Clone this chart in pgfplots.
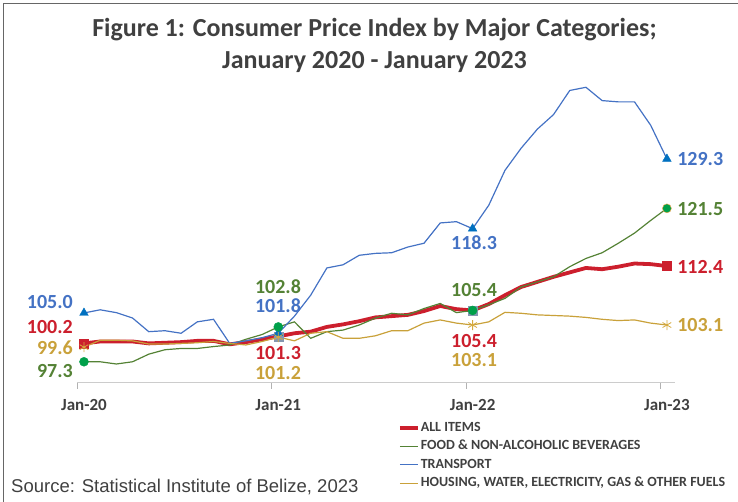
\documentclass[border=0pt]{standalone}
\usepackage{fontspec}
\setmainfont{Carlito}
\newfontfamily\srcfont{Liberation Sans}
\usepackage{pgfplots}
\pgfplotsset{compat=1.18}
\usepackage{pgfplotstable}
\definecolor{cred}{HTML}{CC1F2D}
\definecolor{cgreen}{HTML}{548235}
\definecolor{cgreenm}{HTML}{00A04A}
\definecolor{cblue}{HTML}{4472C4}
\definecolor{cbluem}{HTML}{0070C0}
\definecolor{cgold}{HTML}{C9A13A}
\definecolor{cgoldl}{HTML}{D6AA3E}
\definecolor{ctxt}{HTML}{404040}
\definecolor{cgrey}{HTML}{8497B0}

\pgfplotstableread{
i allitems food transport housing
0 100.2 97.3 105.0 99.6
1 100.5 97.3 105.5 100.7
2 100.5 96.95 105.05 100.7
3 100.5 97.3 104.2 100.6
4 100.2 98.5 102.05 100.1
5 100.3 99.2 102.2 100.1
6 100.4 99.4 101.8 100.2
7 100.6 99.4 103.6 100.3
8 100.6 99.7 104.0 100.5
9 100.05 99.95 100.2 100.2
10 100.4 100.85 100.6 99.95
11 100.85 101.6 101.1 100.5
12 101.3 102.8 101.8 101.2
13 101.8 103.6 104.5 100.6
14 102.05 101.0 107.8 101.8
15 102.8 102.05 112.1 102.05
16 103.2 102.3 112.6 101.0
17 103.7 103.1 114.1 101.0
18 104.3 104.2 114.4 101.4
19 104.5 104.95 114.5 102.2
20 104.7 104.7 115.4 102.2
21 105.3 105.7 116.0 103.4
22 106.1 106.5 119.2 103.9
23 105.6 105.05 119.4 103.4
24 105.4 105.4 118.3 103.1
25 106.4 106.3 122.0 103.6
26 107.8 107.3 127.5 105.1
27 109.1 109.1 131.0 104.95
28 109.9 109.9 134.0 104.7
29 110.7 110.7 136.3 104.6
30 111.4 112.3 140.1 104.5
31 112.1 113.6 140.6 104.3
32 111.9 114.5 138.5 104.0
33 112.3 116.0 138.3 103.8
34 112.8 117.6 138.3 103.9
35 112.7 119.6 134.6 103.4
36 112.4 121.5 129.3 103.1
}\cpidata

\pgfplotstableread{
i allitems food transport housing
0 100.2 97.3 105.0 99.6
12 101.3 102.8 101.8 101.2
24 105.4 105.4 118.3 103.1
36 112.4 121.5 129.3 103.1
}\cpimarks

\begin{document}
\begin{tikzpicture}
\path[use as bounding box] (0pt,0pt) rectangle (738pt,502pt);
\draw[color=ctxt!80, line width=0.8pt] (3.5pt,0pt) -- (3.5pt,499pt) -- (738pt,499pt);
\node[font=\bfseries\fontsize{26}{32}\selectfont, text=ctxt, align=center, anchor=center] at (374.5pt,457pt)
  {Figure 1: Consumer Price Index by Major Categories;\\January 2020 - January 2023};
\node[font=\srcfont\fontsize{18.5}{22}\selectfont, text=ctxt, anchor=base west, inner sep=0pt] at (11pt,9pt)
  {Source: Statistical Institute of Belize, 2023};
\begin{axis}[
  at={(77.5pt,119.3pt)}, anchor=south west,
  scale only axis, width=597.5pt, height=323.3pt,
  xmin=-0.4, xmax=36.5, ymin=94, ymax=145,
  axis x line=bottom, axis y line=none,
  x axis line style={-, draw=black!20, line width=0.8pt},
  xtick={0,12,24,36},
  xticklabels={Jan-20,Jan-21,Jan-22,Jan-23},
  major tick length=0pt,
  xticklabel style={font=\bfseries\fontsize{17}{20}\selectfont, text=ctxt, anchor=north, yshift=-13pt},
  extra x ticks={-0.4,11.6,23.6,35.6},
  extra x tick labels={},
  extra x tick style={tick align=outside, major tick length=6pt, tick style={draw=black!30, line width=0.8pt}},
  clip=false,
  legend cell align=left,
  legend image code/.code={\draw[#1, mark=none] (0pt,0pt) -- (18pt,0pt);},
  legend style={at={(0.531,-0.109)}, anchor=north west, draw=none, fill=none,
    font=\bfseries\fontsize{14}{16}\selectfont, text=ctxt,
    nodes={inner sep=1pt, text height=10pt, text depth=3pt}, row sep=3.5pt},
]
\addplot[cred, line width=3.8pt, line join=round] table[x=i, y=allitems] {\cpidata};
\addlegendentry{ALL ITEMS}
\addplot[cgreen, line width=1.2pt] table[x=i, y=food] {\cpidata};
\addlegendentry{FOOD \& NON-ALCOHOLIC BEVERAGES}
\addplot[cblue, line width=1.2pt] table[x=i, y=transport] {\cpidata};
\addlegendentry{TRANSPORT}
\addplot[cgold, line width=1.2pt] table[x=i, y=housing] {\cpidata};
\addlegendentry{HOUSING, WATER, ELECTRICITY, GAS \& OTHER FUELS}

% markers
\addplot[forget plot, only marks, mark=square*, mark size=4.5pt, mark options={fill=cred, draw=cred}] coordinates {(0,100.2) (36,112.4)};
\addplot[forget plot, only marks, mark=square*, mark size=4.5pt, mark options={fill=cgrey, draw=cgrey}] coordinates {(12,101.3) (24,105.4)};
\addplot[forget plot, only marks, mark=triangle*, mark size=5pt, mark options={fill=cbluem, draw=cbluem}] table[x=i, y=transport] {\cpimarks};
\addplot[forget plot, only marks, mark=asterisk, mark size=5pt, mark options={draw=cgoldl, line width=0.8pt}] table[x=i, y=housing] {\cpimarks};
\addplot[forget plot, only marks, mark=*, mark size=4.5pt, mark options={fill=cgreenm, draw=cgreenm}] coordinates {(0,97.3) (12,102.8) (24,105.4)};
\addplot[forget plot, only marks, mark=*, mark size=4.5pt, mark options={fill=cgreenm, draw=orange!70}] coordinates {(36,121.5)};

% data labels
\begin{scope}[every node/.style={font=\bfseries\fontsize{20}{22}\selectfont, inner sep=0pt}]
\node[anchor=east, text=cblue] at (axis cs:-0.68,106.73) {105.0};
\node[anchor=east, text=cred] at (axis cs:-0.68,102.79) {100.2};
\node[anchor=east, text=cgold] at (axis cs:-0.68,99.48) {99.6};
\node[anchor=east, text=cgreen] at (axis cs:-0.68,95.85) {97.3};

\node[text=cgreen] at (axis cs:11.98,109.2) {102.8};
\node[text=cblue] at (axis cs:11.98,106.2) {101.8};
\node[text=cred] at (axis cs:11.98,98.69) {101.3};
\node[text=cgold] at (axis cs:11.98,95.54) {101.2};

\node[text=cblue] at (axis cs:24.09,116.04) {118.3};
\node[text=cgreen] at (axis cs:24.09,108.63) {105.4};
\node[text=cred] at (axis cs:24.09,100.5) {105.4};
\node[text=cgold] at (axis cs:24.09,97.5) {103.1};

\node[anchor=west, text=cblue] at (axis cs:36.63,129.29) {129.3};
\node[anchor=west, text=cgreen] at (axis cs:36.63,121.4) {121.5};
\node[anchor=west, text=cred] at (axis cs:36.63,112.26) {112.4};
\node[anchor=west, text=cgold] at (axis cs:36.63,103.1) {103.1};
\end{scope}
\end{axis}
\end{tikzpicture}
\end{document}
